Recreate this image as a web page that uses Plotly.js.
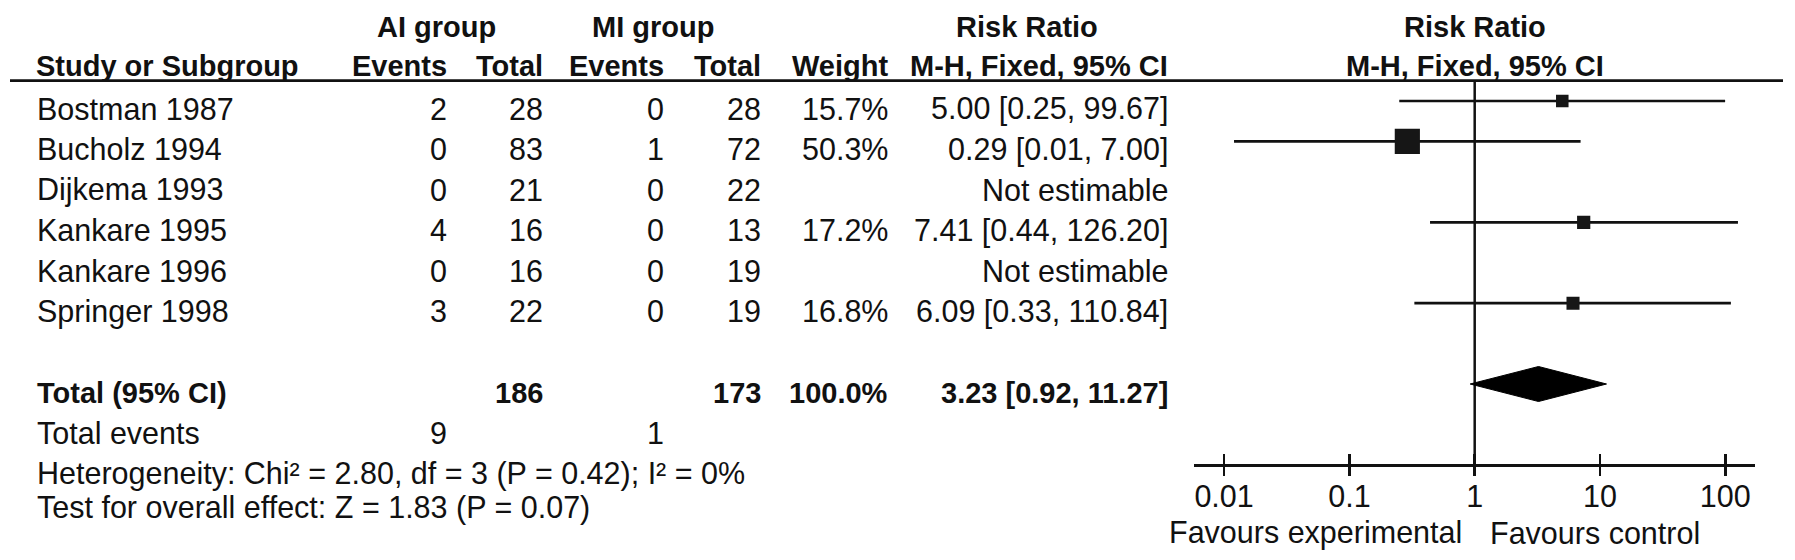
<!DOCTYPE html>
<html><head><meta charset="utf-8">
<script src="https://cdn.plot.ly/plotly-3.0.1.min.js"></script>
<style>html,body{margin:0;padding:0;background:#fff;}#chart{width:1795px;height:560px;}</style>
</head><body><div id="chart"></div>
<script>
// ---------------- data ----------------
const studies    = ['Bostman 1987','Bucholz 1994','Dijkema 1993','Kankare 1995','Kankare 1996','Springer 1998'];
const aiEvents   = [2, 0, 0, 4, 0, 3];
const aiTotal    = [28, 83, 21, 16, 16, 22];
const miEvents   = [0, 1, 0, 0, 0, 0];
const miTotal    = [28, 72, 22, 13, 19, 19];
const weights    = [15.7, 50.3, null, 17.2, null, 16.8];
const riskRatio  = [5.00, 0.29, null, 7.41, null, 6.09];
const ciLower    = [0.25, 0.012, null, 0.44, null, 0.33];
const ciUpper    = [99.67, 7.00, null, 126.20, null, 110.84];
const totalLabel = 'Total (95% CI)';
const totalAI = 186, totalMI = 173, totalWeight = 100.0;
const pooledRR = 3.23, pooledLower = 0.92, pooledUpper = 11.27;
const totalEventsLabel = 'Total events';
const totalEventsAI = 9, totalEventsMI = 1;
const heterogeneityText = 'Heterogeneity: Chi² = 2.80, df = 3 (P = 0.42); I² = 0%';
const overallEffectText = 'Test for overall effect: Z = 1.83 (P = 0.07)';
const groupHeaders = ['AI group', 'MI group'];
const colHeaders = ['Study or Subgroup','Events','Total','Events','Total','Weight','M-H, Fixed, 95% CI'];
const effectHeader = 'Risk Ratio';
const effectSubHeader = 'M-H, Fixed, 95% CI';
const tickValues = [0.01, 0.1, 1, 10, 100];
const tickLabels = ['0.01', '0.1', '1', '10', '100'];
const favoursLeft = 'Favours experimental', favoursRight = 'Favours control';

// ---------------- layout constants (pixels) ----------------
const W = 1795, H = 560;
const NULL_X = 1474.7, DECADE = 125.3, AXIS_HALF = 2.24;
const TOP_LINE_Y = 80.7, AXIS_Y = 465, ROW0 = 101, ROW_STEP = 40.43, TOTAL_ROW = 7;
const TEXT_DY = 8;
const HEAD1_Y = 27, HEAD2_Y = 66;
const NAME_X = 37;
const COL_RIGHT = [447, 543, 664, 761, 888, 1168];
const TOTAL_EVENTS_Y = 433, HET_Y = 473, TEST_Y = 507.5, FAVOURS_Y = 532.5;
const FONT = 'Liberation Sans, Arial, Helvetica, sans-serif';
const REG = 30.5, BOLD = 29;
const INK = '#111111';

const px = p => p / W;
const py = p => 1 - p / H;
const rowPx = r => ROW0 + ROW_STEP * r;
const rowOf = p => (p - ROW0) / ROW_STEP;

const xLeftPx = NULL_X - AXIS_HALF * DECADE, xRightPx = NULL_X + AXIS_HALF * DECADE;
const yDomain = [py(AXIS_Y), py(TOP_LINE_Y)];

// ---------------- traces ----------------
const idx = studies.map((_, i) => i).filter(i => riskRatio[i] != null);
const studyTrace = {
  type: 'scatter', mode: 'markers',
  x: idx.map(i => riskRatio[i]),
  y: idx.map(i => i),
  error_x: {type: 'data', symmetric: false,
    array: idx.map(i => ciUpper[i] - riskRatio[i]),
    arrayminus: idx.map(i => riskRatio[i] - ciLower[i]),
    width: 0, thickness: 2.7, color: INK},
  marker: {symbol: 'square', color: '#161616', opacity: 1, size: idx.map(i => 2.4 * Math.pow(weights[i], 0.6)), line: {width: 0}},
  hoverinfo: 'skip', showlegend: false
};
const dh = 17.5 / ROW_STEP;
const diamond = {
  type: 'scatter', mode: 'lines', fill: 'toself', fillcolor: '#000', line: {color: '#000', width: 1},
  x: [pooledLower, pooledRR, pooledUpper, pooledRR, pooledLower],
  y: [TOTAL_ROW, TOTAL_ROW - dh, TOTAL_ROW, TOTAL_ROW + dh, TOTAL_ROW],
  hoverinfo: 'skip', showlegend: false
};

// ---------------- annotations ----------------
const ann = [];
function txt(text, xPx, yPx, anchor, bold) {
  ann.push({text: text, xref: 'paper', yref: 'paper', x: px(xPx), y: py(yPx),
    xanchor: anchor, yanchor: 'middle', showarrow: false, borderpad: 0, borderwidth: 0,
    font: {family: FONT, size: bold ? BOLD : REG, color: INK, weight: bold ? 'bold' : 'normal'}});
}
// headers
txt(groupHeaders[0], 436, HEAD1_Y, 'center', true);
txt(groupHeaders[1], 653, HEAD1_Y, 'center', true);
txt(effectHeader, 1027, HEAD1_Y, 'center', true);
txt(effectHeader, NULL_X, HEAD1_Y, 'center', true);
txt(colHeaders[0], NAME_X - 1, HEAD2_Y, 'left', true);
for (let c = 1; c < colHeaders.length; c++) txt(colHeaders[c], COL_RIGHT[c - 1], HEAD2_Y, 'right', true);
txt(effectSubHeader, NULL_X, HEAD2_Y, 'center', true);
// study rows
studies.forEach((s, i) => {
  const y = rowPx(i) + TEXT_DY;
  txt(s, NAME_X, y, 'left', false);
  txt(String(aiEvents[i]), COL_RIGHT[0], y, 'right', false);
  txt(String(aiTotal[i]), COL_RIGHT[1], y, 'right', false);
  txt(String(miEvents[i]), COL_RIGHT[2], y, 'right', false);
  txt(String(miTotal[i]), COL_RIGHT[3], y, 'right', false);
  if (weights[i] != null) txt(weights[i].toFixed(1) + '%', COL_RIGHT[4], y, 'right', false);
  const est = riskRatio[i] == null ? 'Not estimable'
    : riskRatio[i].toFixed(2) + ' [' + ciLower[i].toFixed(2) + ', ' + ciUpper[i].toFixed(2) + ']';
  txt(est, COL_RIGHT[5], y, 'right', false);
});
// total row
const ty = rowPx(TOTAL_ROW) + TEXT_DY + 0.5;
txt(totalLabel, NAME_X, ty, 'left', true);
txt(String(totalAI), COL_RIGHT[1], ty, 'right', true);
txt(String(totalMI), COL_RIGHT[3], ty, 'right', true);
txt(totalWeight.toFixed(1) + '%', COL_RIGHT[4], ty, 'right', true);
txt(pooledRR.toFixed(2) + ' [' + pooledLower.toFixed(2) + ', ' + pooledUpper.toFixed(2) + ']', COL_RIGHT[5], ty, 'right', true);
txt(totalEventsLabel, NAME_X, TOTAL_EVENTS_Y, 'left', false);
txt(String(totalEventsAI), COL_RIGHT[0], TOTAL_EVENTS_Y, 'right', false);
txt(String(totalEventsMI), COL_RIGHT[2], TOTAL_EVENTS_Y, 'right', false);
txt(heterogeneityText, NAME_X, HET_Y, 'left', false);
txt(overallEffectText, NAME_X, TEST_Y, 'left', false);
txt(favoursLeft, NULL_X - 13, FAVOURS_Y, 'right', false);
txt(favoursRight, NULL_X + 15, FAVOURS_Y, 'left', false);

// ---------------- layout ----------------
const axisCommon = {
  type: 'log', range: [-AXIS_HALF, AXIS_HALF], domain: [px(xLeftPx), px(xRightPx)],
  anchor: 'free', position: py(AXIS_Y), showgrid: false, zeroline: false,
  tickvals: tickValues, ticktext: tickLabels, ticklen: 10, tickwidth: 2.6, tickcolor: INK, fixedrange: true
};
const layout = {
  width: W, height: H, margin: {l: 0, r: 0, t: 0, b: 0},
  paper_bgcolor: '#fff', plot_bgcolor: 'rgba(0,0,0,0)', showlegend: false,
  xaxis: Object.assign({}, axisCommon, {ticks: 'inside', showline: true, linecolor: INK, linewidth: 2.8,
    tickfont: {family: FONT, size: REG, color: INK}, ticklabelstandoff: 4}),
  xaxis2: Object.assign({}, axisCommon, {overlaying: 'x', ticks: 'outside', showline: false, showticklabels: false}),
  yaxis: {domain: yDomain, range: [rowOf(AXIS_Y), rowOf(TOP_LINE_Y)], visible: false, fixedrange: true},
  shapes: [
    {type: 'line', xref: 'paper', yref: 'paper', x0: px(10), x1: px(1783), y0: py(TOP_LINE_Y), y1: py(TOP_LINE_Y),
     line: {color: INK, width: 2.8}},
    {type: 'line', xref: 'x', yref: 'paper', x0: 1, x1: 1, y0: yDomain[0], y1: yDomain[1],
     line: {color: INK, width: 2.5}, layer: 'below'}
  ],
  annotations: ann
};
const dummy = {type: 'scatter', x: [1], y: [0], xaxis: 'x2', mode: 'markers', marker: {opacity: 0}, hoverinfo: 'skip'};
Plotly.newPlot('chart', [studyTrace, diamond, dummy], layout, {staticPlot: true, displayModeBar: false});
</script></body></html>
